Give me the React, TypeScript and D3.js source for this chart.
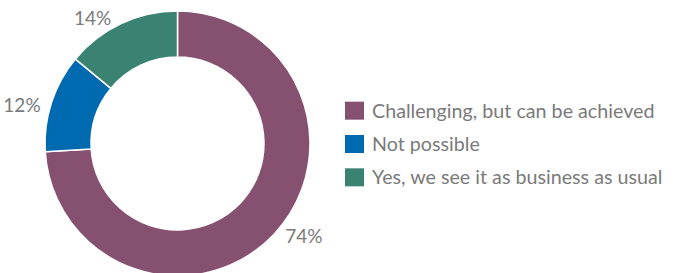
import React from 'react';
import * as d3 from 'd3';

const categories: string[] = ['Challenging, but can be achieved', 'Not possible', 'Yes, we see it as business as usual'];
const values: number[] = [74, 12, 14];
const colors: string[] = ['#865070', '#006AB0', '#3A8272'];

const width = 673;
const height = 273;
const cx = 177.5;
const cy = 143.5;
const outerR = 132.5;
const innerR = 86.5;
const labelR = 142;

export default function App() {
  const pie = d3.pie<number>().sort(null).value((d: number) => d);
  const arcs = pie(values);
  const arc = d3.arc<d3.PieArcDatum<number>>().innerRadius(innerR).outerRadius(outerR);
  const total = d3.sum(values);

  // legend rows
  const legendY = d3.scaleBand<string>().domain(categories).range([94, 194]).paddingInner(0);

  return (
    <svg width={width} height={height} style={{ position: 'absolute', left: 0, top: 0 }}>
      <g transform={`translate(${cx},${cy})`}>
        {arcs.map((a: any, i: number) => (
          <path key={i} d={arc(a) || ''} fill={colors[i]} stroke="#fff" strokeWidth={1.5} />
        ))}
        {arcs.map((a: any, i: number) => {
          const mid = (a.startAngle + a.endAngle) / 2 - 0.045;
          const x = Math.sin(mid) * labelR;
          const y = -Math.cos(mid) * labelR;
          return (
            <text key={'l' + i} x={x} y={y} dy="0.35em" textAnchor={x < 0 ? 'end' : 'start'}
              fontFamily="Lato, sans-serif" fontSize={19} fill="#7a7a7a">
              {Math.round((values[i] / total) * 100)}%
            </text>
          );
        })}
      </g>
      <g>
        {categories.map((c: string, i: number) => {
          const y = (legendY(c) as number) + legendY.bandwidth() / 2;
          return (
            <g key={c}>
              <rect x={345} y={y - 9} width={19} height={18} fill={colors[i]} />
              <text x={372} y={y} dy="0.36em" fontFamily="Lato, sans-serif" fontSize={19.7} fill="#7a7a7a">{c}</text>
            </g>
          );
        })}
      </g>
    </svg>
  );
}
